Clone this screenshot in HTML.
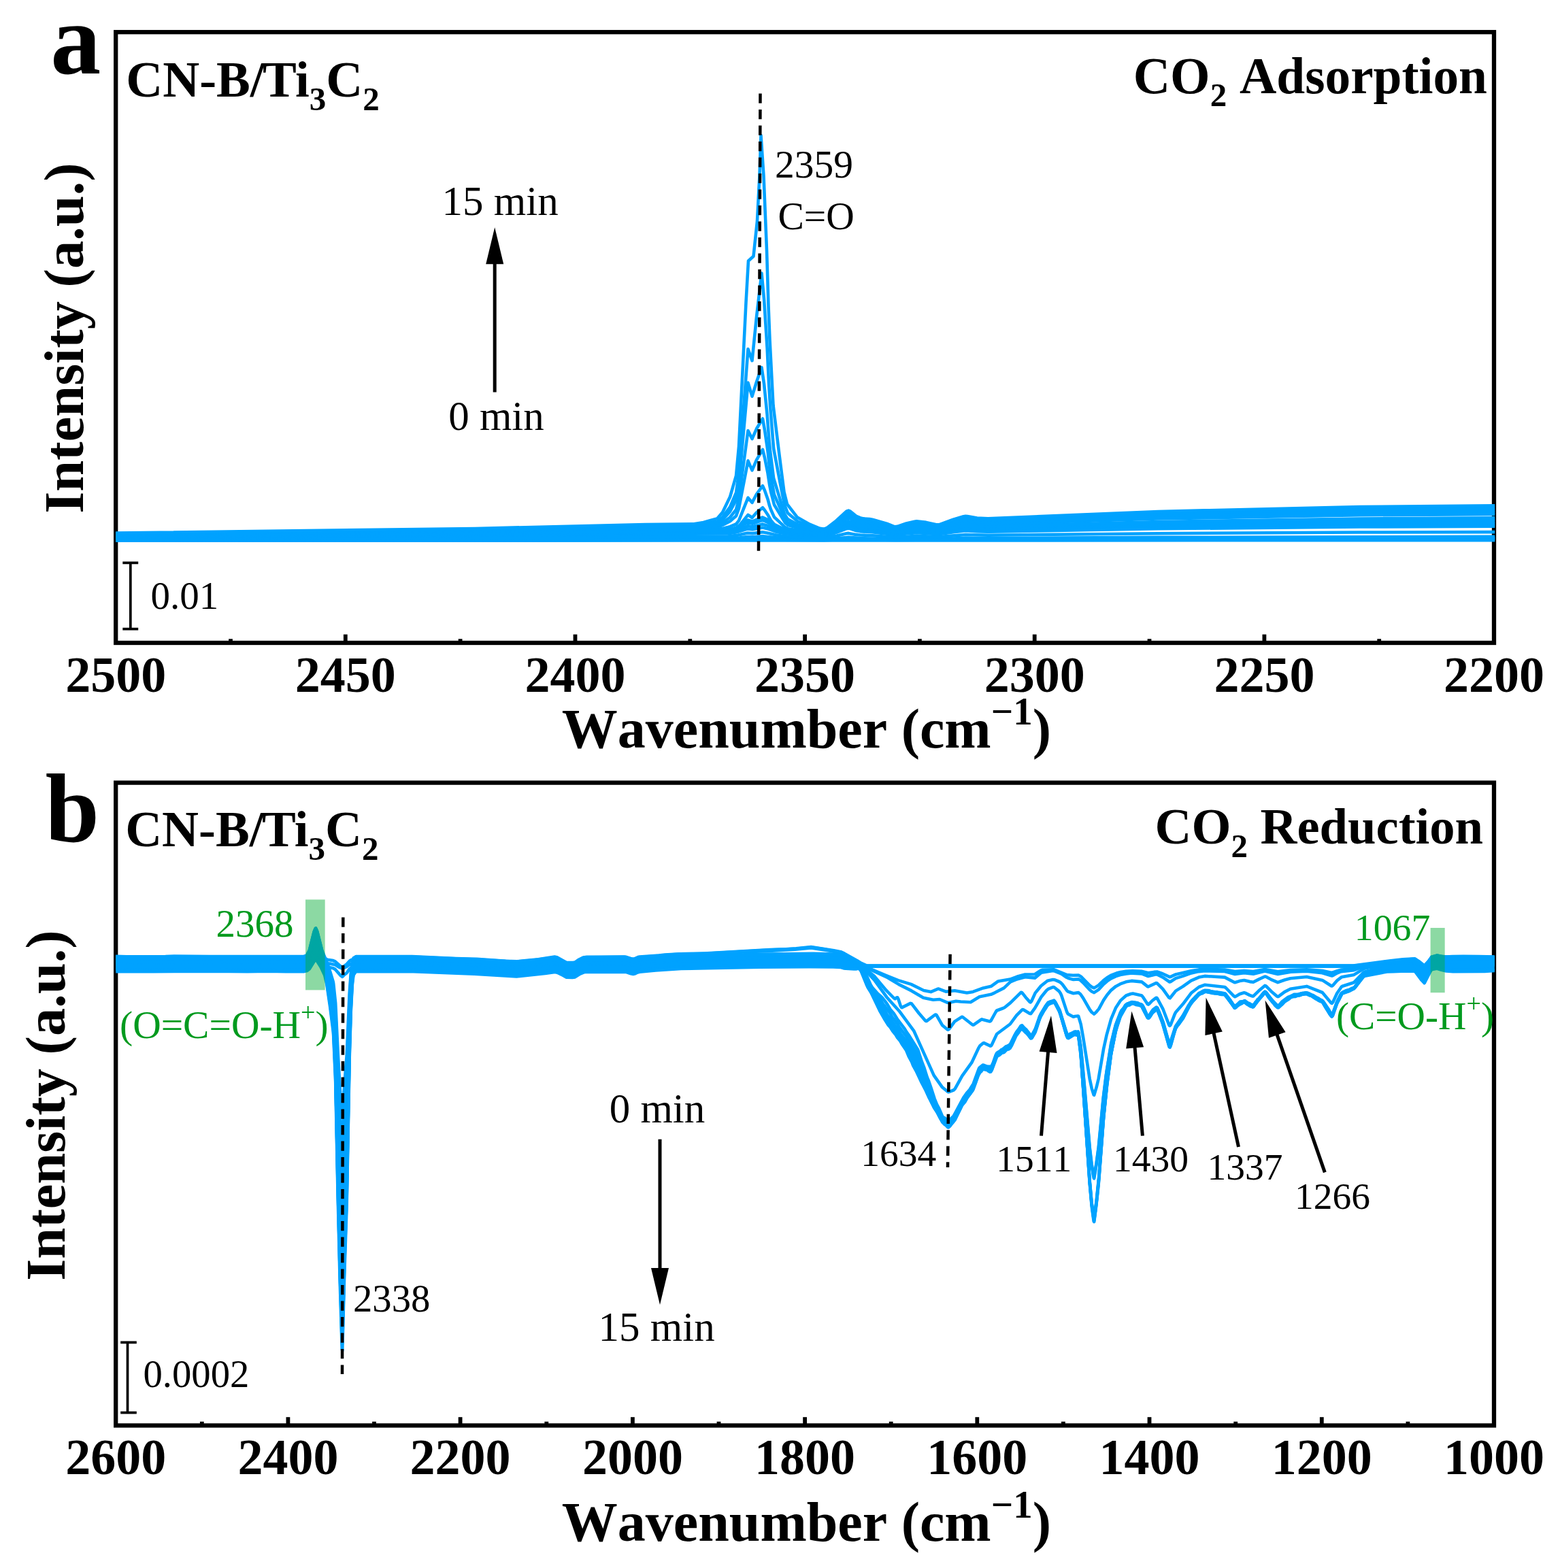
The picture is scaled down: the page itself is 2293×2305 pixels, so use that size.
<!DOCTYPE html>
<html lang="en"><head><meta charset="utf-8"><title>In situ DRIFTS spectra of CN-B/Ti3C2</title>
<style>html,body{margin:0;padding:0;background:#fff}svg{display:block}text{font-family:'Liberation Serif','Times New Roman',serif;font-kerning:none}</style></head>
<body>
<svg width="2293" height="2305" viewBox="0 0 2293 2305" role="img" aria-label="In situ DRIFTS spectra of CN-B/Ti3C2 during CO2 adsorption and reduction">
<rect width="2293" height="2305" fill="#fff"/>
<g id="panel-a">
<rect x="170.2" y="47.2" width="2025.8" height="897.8" fill="none" stroke="#000" stroke-width="6.3"/>
<g stroke="#000" stroke-width="5.8"><line x1="507.8" y1="945.0" x2="507.8" y2="932.6"/><line x1="845.5" y1="945.0" x2="845.5" y2="932.6"/><line x1="1183.1" y1="945.0" x2="1183.1" y2="932.6"/><line x1="1520.7" y1="945.0" x2="1520.7" y2="932.6"/><line x1="1858.4" y1="945.0" x2="1858.4" y2="932.6"/><line x1="339.0" y1="945.0" x2="339.0" y2="939.2"/><line x1="676.6" y1="945.0" x2="676.6" y2="939.2"/><line x1="1014.3" y1="945.0" x2="1014.3" y2="939.2"/><line x1="1351.9" y1="945.0" x2="1351.9" y2="939.2"/><line x1="1689.5" y1="945.0" x2="1689.5" y2="939.2"/><line x1="2027.2" y1="945.0" x2="2027.2" y2="939.2"/></g>
<g fill="none" stroke="#00a2ff" stroke-width="4.6" stroke-linejoin="round" stroke-linecap="butt">
<polyline points="170.2,794.8 2197.2,794.2"/>
<polyline points="170.2,794.4 1070.0,793.7 1121.0,792.9 1152.0,793.7 1211.2,794.1 1247.2,792.8 1316.2,794.0 1347.2,793.6 1380.2,793.8 1419.2,793.2 2197.2,792.4"/>
<polyline points="170.2,794.0 1070.0,792.8 1099.0,791.4 1106.0,791.6 1121.0,791.1 1152.0,792.7 1211.2,793.5 1247.2,791.2 1264.2,792.1 1316.2,793.2 1347.2,792.6 1380.2,793.0 1419.2,791.9 1452.2,792.2 1702.2,791.3 2197.2,790.6"/>
<polyline points="170.2,793.6 1070.0,791.9 1083.0,791.0 1099.0,789.0 1106.0,789.4 1121.0,788.3 1152.0,791.6 1170.0,792.3 1210.2,792.9 1216.2,792.7 1247.2,789.8 1264.2,791.0 1316.2,792.6 1347.2,791.6 1380.2,792.2 1419.2,790.7 1452.2,791.2 1702.2,789.9 2197.2,788.9"/>
<polyline points="170.2,792.1 698.2,790.5 1070.0,788.6 1083.0,786.9 1099.0,783.5 1106.0,784.1 1121.0,782.3 1128.0,783.4 1140.0,786.3 1152.0,788.1 1170.0,789.3 1210.2,790.6 1216.2,790.1 1230.2,787.4 1244.2,784.2 1247.2,783.9 1258.2,785.9 1264.2,786.5 1282.2,787.2 1316.2,789.8 1347.2,787.8 1380.2,789.1 1419.2,786.0 1452.2,786.8 1702.2,784.2 1999.2,782.5 2197.2,782.1"/>
<polyline points="170.2,790.3 698.2,787.6 948.2,785.2 1070.0,784.5 1083.0,782.2 1099.0,777.4 1106.0,778.3 1121.0,775.6 1128.0,777.2 1140.0,781.4 1152.0,784.0 1170.0,785.8 1211.2,787.8 1216.2,787.0 1230.2,782.6 1244.2,777.2 1247.2,776.8 1250.2,777.3 1258.2,780.1 1264.2,781.1 1282.2,782.2 1303.2,784.6 1316.2,786.5 1332.2,784.5 1347.2,783.2 1361.2,783.9 1376.2,785.3 1380.2,785.3 1401.2,782.2 1419.2,780.2 1436.2,781.3 1452.2,781.6 1702.2,777.3 1999.2,774.5 2197.2,773.8"/>
<polyline points="170.2,789.8 699.2,786.8 948.2,784.1 1070.0,783.2 1083.0,779.9 1099.0,773.1 1106.0,774.3 1121.0,770.6 1128.0,772.8 1140.0,778.6 1152.0,782.3 1170.0,784.6 1182.2,785.1 1210.2,787.1 1213.2,786.9 1216.2,786.2 1230.2,781.2 1244.2,775.3 1247.2,774.8 1250.2,775.4 1258.2,778.5 1264.2,779.6 1269.2,780.2 1282.2,780.8 1303.2,783.4 1316.2,785.6 1332.2,783.4 1347.2,781.9 1361.2,782.7 1376.2,784.2 1380.2,784.2 1401.2,780.8 1419.2,778.6 1436.2,779.8 1452.2,780.2 1702.2,775.4 1999.2,772.3 2197.2,771.5"/>
<polyline points="170.2,789.2 699.2,786.0 1070.0,781.9 1083.0,777.3 1092.0,771.7 1099.0,768.1 1106.0,769.7 1121.0,764.6 1128.0,767.6 1140.0,775.3 1152.0,780.3 1170.0,783.4 1182.2,784.0 1210.2,786.3 1213.2,786.1 1216.2,785.3 1230.2,779.8 1244.2,773.3 1247.2,772.8 1250.2,773.5 1258.2,776.8 1264.2,778.1 1269.2,778.7 1282.2,779.3 1303.2,782.3 1316.2,784.7 1332.2,782.2 1347.2,780.7 1361.2,781.5 1376.2,783.2 1380.2,783.2 1401.2,779.3 1419.2,777.0 1436.2,778.3 1452.2,778.7 1702.2,773.5 1999.2,770.0 2197.2,769.2"/>
<polyline points="170.2,788.7 699.2,785.1 948.2,781.8 1020.0,781.4 1049.2,780.6 1070.0,780.5 1083.0,775.2 1092.0,768.8 1099.0,764.5 1106.0,766.4 1121.0,760.5 1128.0,763.9 1140.0,772.9 1152.0,778.6 1170.0,782.2 1182.2,782.9 1210.2,785.4 1213.2,785.2 1216.2,784.3 1230.2,778.3 1244.2,771.2 1247.2,770.6 1250.2,771.3 1258.2,775.0 1264.2,776.4 1269.2,777.1 1282.2,777.8 1303.2,781.0 1313.2,783.3 1316.2,783.6 1332.2,781.0 1347.2,779.2 1361.2,780.1 1376.2,782.0 1380.2,782.0 1401.2,777.8 1419.2,775.1 1436.2,776.6 1452.2,777.1 1702.2,771.3 1999.2,767.5 2197.2,766.6"/>
<polyline points="170.2,788.1 699.2,784.2 947.2,780.6 1020.0,780.2 1054.5,779.6 1073.0,777.9 1082.0,776.2 1086.0,773.6 1099.5,756.9 1105.5,761.0 1112.0,753.6 1121.0,746.3 1124.0,750.0 1128.5,756.7 1133.0,764.9 1138.0,770.8 1154.0,778.9 1158.5,780.0 1210.2,784.5 1213.2,784.3 1216.2,783.3 1230.2,776.8 1244.2,769.0 1247.2,768.4 1250.2,769.1 1258.2,773.2 1264.2,774.7 1269.2,775.5 1282.2,776.2 1303.2,779.7 1313.2,782.2 1316.2,782.6 1319.2,782.3 1332.2,779.7 1347.2,777.8 1361.2,778.8 1376.2,780.8 1380.2,780.8 1401.2,776.2 1419.2,773.3 1436.2,774.9 1452.2,775.4 1702.2,769.2 1999.2,765.0 2197.2,764.0"/>
<polyline points="170.2,787.5 699.2,783.3 948.2,779.4 1020.0,778.9 1054.5,777.8 1062.0,776.9 1073.0,774.2 1082.0,770.5 1086.0,765.3 1099.5,731.7 1105.5,738.9 1112.0,726.5 1121.0,714.2 1124.0,721.0 1128.5,733.7 1131.0,743.1 1133.0,749.0 1138.0,760.1 1154.0,775.1 1158.5,777.2 1173.5,779.7 1210.2,783.7 1213.2,783.4 1216.2,782.4 1230.2,775.3 1244.2,766.8 1247.2,766.1 1250.2,767.0 1258.2,771.4 1264.2,773.0 1269.2,773.8 1282.2,774.6 1303.2,778.5 1313.2,781.2 1316.2,781.5 1319.2,781.3 1332.2,778.4 1347.2,776.4 1361.2,777.4 1376.2,779.6 1380.2,779.6 1401.2,774.6 1419.2,771.5 1436.2,773.2 1452.2,773.8 1702.2,767.0 1999.2,762.5 2197.2,761.4"/>
<polyline points="170.2,786.3 700.2,781.4 948.2,776.9 1020.0,776.4 1054.5,774.2 1062.0,772.0 1073.0,766.3 1082.0,758.4 1086.0,747.4 1099.5,677.3 1105.5,691.4 1112.0,676.1 1121.0,660.8 1124.0,672.9 1128.5,695.3 1131.0,712.0 1133.0,722.4 1138.0,742.0 1154.0,768.4 1158.5,772.1 1173.5,776.3 1210.2,781.8 1213.2,781.5 1216.2,780.3 1230.2,772.1 1244.2,762.3 1247.2,761.5 1250.2,762.5 1258.2,767.5 1264.2,769.5 1269.2,770.4 1282.2,771.4 1303.2,775.8 1313.2,778.9 1316.2,779.4 1319.2,779.0 1332.2,775.7 1347.2,773.3 1361.2,774.6 1376.2,777.1 1380.2,777.1 1401.2,771.4 1416.2,768.1 1419.2,767.7 1436.2,769.7 1452.2,770.4 1702.2,762.5 1999.2,757.3 2197.2,756.0"/>
<polyline points="170.2,785.7 700.2,780.4 948.2,775.6 1020.0,775.0 1034.0,774.0 1054.5,771.9 1062.0,768.7 1073.0,760.5 1082.0,749.1 1086.0,733.4 1099.5,633.0 1105.5,645.1 1112.0,630.3 1121.0,615.5 1124.0,632.2 1128.5,663.0 1131.0,686.0 1133.0,700.2 1138.0,727.2 1154.0,763.3 1158.5,768.4 1173.5,774.1 1206.5,780.4 1211.2,780.9 1215.2,779.8 1230.2,770.4 1244.2,759.9 1247.2,759.0 1250.2,760.1 1258.2,765.5 1264.2,767.6 1269.2,768.6 1278.2,769.1 1282.2,769.6 1303.2,774.4 1313.2,777.8 1316.2,778.2 1319.2,777.9 1332.2,774.3 1347.2,771.8 1361.2,773.1 1376.2,775.8 1380.2,775.8 1401.2,769.6 1416.2,766.1 1419.2,765.8 1436.2,767.9 1452.2,768.6 1702.2,760.1 1999.2,754.5 2197.2,753.1"/>
<polyline points="170.2,785.0 701.2,779.3 948.2,774.2 1020.0,773.5 1034.0,772.1 1054.5,769.0 1062.0,764.2 1073.0,751.9 1082.0,735.0 1086.0,711.6 1099.5,562.6 1105.5,582.7 1112.0,561.4 1119.5,540.1 1123.1,564.4 1127.6,609.4 1130.1,642.9 1132.1,663.6 1137.1,703.0 1153.1,755.6 1157.6,763.0 1172.6,771.1 1190.6,775.9 1205.6,779.2 1211.2,779.8 1215.2,778.7 1230.2,768.6 1244.2,757.3 1247.2,756.4 1250.2,757.5 1258.2,763.4 1264.2,765.6 1269.2,766.7 1278.2,767.1 1282.2,767.8 1303.2,772.9 1313.2,776.5 1316.2,777.0 1319.2,776.6 1332.2,772.8 1347.2,770.0 1361.2,771.5 1376.2,774.4 1380.2,774.4 1401.2,767.8 1416.2,764.0 1419.2,763.6 1436.2,765.9 1452.2,766.6 1702.2,757.5 1999.2,751.5 2197.2,750.0"/>
<polyline points="170.2,784.2 698.2,778.2 948.2,772.6 1020.0,771.9 1034.0,770.2 1054.5,766.4 1062.0,760.4 1073.0,745.4 1082.0,724.5 1086.0,695.9 1099.5,513.0 1105.5,530.2 1112.0,465.9 1119.5,401.6 1123.1,440.0 1127.6,511.2 1130.1,564.1 1132.1,596.9 1137.1,659.2 1146.1,706.7 1153.1,742.2 1157.6,753.9 1172.6,766.6 1190.6,773.6 1205.6,778.0 1210.2,778.7 1213.2,778.3 1216.2,776.8 1229.2,767.4 1244.2,754.5 1247.2,753.5 1250.2,754.7 1258.2,761.0 1264.2,763.4 1269.2,764.6 1278.2,765.1 1282.2,765.7 1303.2,771.2 1313.2,775.1 1316.2,775.6 1319.2,775.2 1332.2,771.2 1344.2,768.5 1347.2,768.2 1361.2,769.7 1376.2,772.9 1380.2,772.9 1401.2,765.7 1416.2,761.6 1419.2,761.3 1436.2,763.7 1452.2,764.5 1702.2,754.7 1999.2,748.3 2197.2,746.7"/>
<polyline points="170.2,783.5 698.2,777.0 948.2,771.0 1020.0,770.3 1034.0,767.9 1054.5,762.1 1062.0,753.2 1073.0,730.6 1082.0,699.4 1086.0,656.5 1096.5,444.8 1100.0,383.5 1107.5,376.8 1113.0,325.0 1116.5,258.1 1118.5,199.1 1122.5,258.2 1127.0,367.8 1129.5,449.3 1131.5,499.8 1136.5,595.6 1145.5,668.7 1152.5,723.3 1157.0,741.2 1172.0,760.6 1190.0,770.7 1205.0,776.8 1210.2,777.5 1213.2,777.1 1216.2,775.6 1229.2,765.5 1244.2,751.7 1247.2,750.6 1250.2,751.9 1258.2,758.6 1264.2,761.2 1269.2,762.4 1278.2,763.0 1282.2,763.7 1303.2,769.6 1313.2,773.7 1316.2,774.3 1319.2,773.9 1332.2,769.5 1344.2,766.7 1347.2,766.3 1361.2,767.9 1376.2,771.3 1380.2,771.3 1401.2,763.7 1416.2,759.3 1419.2,758.9 1422.2,759.1 1436.2,761.5 1452.2,762.4 1702.2,752.0 1999.2,745.0 2197.2,743.3"/>
</g>
<line x1="1117.5" y1="137.5" x2="1115.0" y2="810" stroke="#000" stroke-width="4.5" stroke-dasharray="14.3 9.2"/>
<text x="74.3" y="108.2" font-size="148.0" font-weight="bold">a</text>
<text x="185.3" y="142.4" font-size="74.7" font-weight="bold">CN-B/<tspan dx="-2.5">T</tspan><tspan dx="-2">i</tspan><tspan dy="19.7" font-size="49">3</tspan><tspan dy="-19.7">C</tspan><tspan dy="19.7" font-size="49">2</tspan></text>
<text x="2186" y="136.7" font-size="75.3" font-weight="bold" text-anchor="end">CO<tspan dy="19.7" font-size="49">2</tspan><tspan dy="-19.7"> Adsorption</tspan></text>
<text x="735.2" y="315.6" font-size="61.0" text-anchor="middle">15 min</text>
<text x="729.5" y="632.3" font-size="61.0" text-anchor="middle">0 min</text>
<line x1="727.2" y1="576.5" x2="727.2" y2="386.3" stroke="#000" stroke-width="5.0"/><polygon points="727.2,334.3 740.2,388.3 714.2,388.3" fill="#000"/>
<text x="1139.0" y="261.0" font-size="57.5">2359</text>
<text x="1143.5" y="336.8" font-size="57.5">C=O</text>
<path d="M191.8 826V926M180.3 827.4H203.2M180.3 924.6H203.2" stroke="#000" stroke-width="3.7" fill="none"/>
<text x="221.5" y="895.4" font-size="57.0">0.01</text>
<text x="170.2" y="1017.0" font-size="74.0" font-weight="bold" text-anchor="middle">2500</text>
<text x="507.8" y="1017.0" font-size="74.0" font-weight="bold" text-anchor="middle">2450</text>
<text x="845.5" y="1017.0" font-size="74.0" font-weight="bold" text-anchor="middle">2400</text>
<text x="1183.1" y="1017.0" font-size="74.0" font-weight="bold" text-anchor="middle">2350</text>
<text x="1520.7" y="1017.0" font-size="74.0" font-weight="bold" text-anchor="middle">2300</text>
<text x="1858.4" y="1017.0" font-size="74.0" font-weight="bold" text-anchor="middle">2250</text>
<text x="2196.0" y="1017.0" font-size="74.0" font-weight="bold" text-anchor="middle">2200</text>
<text x="1185.4" y="1098.6" font-size="82" font-weight="bold" text-anchor="middle">Wavenumber (cm<tspan dy="-34" font-size="57">−1</tspan><tspan dy="34">)</tspan></text>
<text transform="translate(121.7,497) rotate(-90)" font-size="82.5" font-weight="bold" text-anchor="middle">Intensity (a.u.)</text>
</g>
<g id="panel-b">
<rect x="170.2" y="1150.6" width="2025.8" height="944.9" fill="none" stroke="#000" stroke-width="6.3"/>
<g stroke="#000" stroke-width="5.8"><line x1="423.4" y1="2095.5" x2="423.4" y2="2083.2"/><line x1="676.6" y1="2095.5" x2="676.6" y2="2083.2"/><line x1="929.9" y1="2095.5" x2="929.9" y2="2083.2"/><line x1="1183.1" y1="2095.5" x2="1183.1" y2="2083.2"/><line x1="1436.3" y1="2095.5" x2="1436.3" y2="2083.2"/><line x1="1689.5" y1="2095.5" x2="1689.5" y2="2083.2"/><line x1="1942.8" y1="2095.5" x2="1942.8" y2="2083.2"/><line x1="296.8" y1="2095.5" x2="296.8" y2="2089.8"/><line x1="550.0" y1="2095.5" x2="550.0" y2="2089.8"/><line x1="803.3" y1="2095.5" x2="803.3" y2="2089.8"/><line x1="1056.5" y1="2095.5" x2="1056.5" y2="2089.8"/><line x1="1309.7" y1="2095.5" x2="1309.7" y2="2089.8"/><line x1="1562.9" y1="2095.5" x2="1562.9" y2="2089.8"/><line x1="1816.2" y1="2095.5" x2="1816.2" y2="2089.8"/><line x1="2069.4" y1="2095.5" x2="2069.4" y2="2089.8"/></g>
<g fill="none" stroke="#00a2ff" stroke-width="4.6" stroke-linejoin="round" stroke-linecap="butt">
<polyline points="170.2,1415.8 202.2,1416.0 245.7,1415.7 258.2,1416.0 288.2,1415.7 326.7,1416.1 393.7,1415.7 447.2,1415.8 451.2,1415.1 454.7,1413.0 461.7,1403.7 464.2,1402.0 466.2,1403.6 473.2,1412.7 476.7,1415.1 481.2,1416.4 486.7,1416.9 492.7,1418.2 498.7,1422.0 503.2,1423.9 509.7,1421.0 513.7,1417.9 515.7,1416.9 519.7,1416.1 577.2,1415.7 600.7,1416.0 612.2,1416.8 660.7,1418.6 688.7,1419.3 756.7,1423.3 762.7,1423.1 779.2,1421.5 799.2,1419.3 816.2,1416.9 819.2,1417.8 832.2,1424.7 842.7,1424.9 846.2,1424.0 853.2,1419.4 857.7,1417.4 860.2,1417.0 902.7,1416.5 918.7,1416.7 920.7,1417.0 928.2,1419.7 930.7,1420.0 933.2,1419.5 937.2,1417.7 939.7,1417.0 1002.7,1411.7 1038.2,1411.3 1076.7,1410.3 1107.2,1410.2 1179.2,1409.0 1194.7,1409.0 1234.7,1410.1 1239.2,1411.1 1250.2,1415.0 1258.2,1417.2 1267.7,1419.1 1274.2,1419.9 1989.7,1420.0 2051.2,1416.6 2079.7,1416.4 2083.2,1418.7 2093.7,1427.3 2100.2,1420.5 2104.2,1415.2 2112.2,1413.3 2119.2,1415.0 2126.2,1416.0 2177.7,1415.9 2196.7,1416.5"/>
<polyline points="170.2,1406.4 243.2,1406.0 256.2,1405.6 308.2,1406.0 446.7,1405.8 450.7,1404.3 451.2,1403.7 454.7,1397.2 461.7,1369.4 463.7,1364.6 464.2,1364.4 466.2,1368.9 473.2,1396.5 477.2,1406.8 480.2,1413.4 485.2,1428.2 489.7,1443.2 490.2,1446.0 493.2,1474.8 496.7,1547.7 499.7,1599.8 502.7,1641.6 503.2,1642.5 506.2,1595.1 509.7,1551.0 513.7,1459.6 515.7,1431.4 517.7,1414.7 519.2,1409.4 519.7,1408.2 523.2,1406.1 605.7,1406.1 670.2,1409.1 700.7,1409.9 743.2,1412.8 759.7,1413.4 791.2,1410.2 815.2,1406.5 818.7,1407.2 832.2,1414.7 842.2,1415.1 845.2,1414.6 851.2,1410.5 857.2,1407.6 862.7,1406.7 917.7,1406.6 921.2,1407.1 928.2,1409.4 931.2,1409.7 933.7,1409.0 937.7,1407.1 940.2,1406.6 968.7,1404.6 977.2,1403.6 999.7,1402.2 1018.7,1402.0 1039.7,1401.2 1132.2,1396.0 1155.2,1395.3 1170.2,1394.3 1192.2,1392.0 1225.7,1397.2 1235.7,1399.2 1240.7,1401.4 1261.7,1413.3 1274.2,1422.0 1302.7,1434.1 1320.2,1441.1 1339.2,1446.9 1357.7,1456.0 1368.2,1458.1 1378.2,1453.8 1379.7,1453.6 1390.2,1457.7 1403.2,1456.2 1421.2,1459.5 1430.2,1457.9 1445.2,1452.4 1457.2,1449.7 1467.2,1442.4 1484.7,1439.6 1494.7,1435.8 1506.7,1432.5 1521.2,1432.2 1529.7,1426.6 1531.7,1425.9 1548.7,1425.2 1568.2,1433.1 1577.2,1433.8 1585.2,1433.5 1588.7,1435.4 1601.7,1448.5 1604.7,1450.8 1608.2,1452.4 1614.7,1448.4 1622.2,1441.1 1627.2,1437.3 1632.7,1434.0 1641.2,1430.6 1647.2,1429.1 1655.2,1427.8 1664.7,1427.3 1677.7,1427.8 1687.7,1430.3 1696.2,1428.9 1700.7,1428.5 1709.2,1431.5 1719.2,1436.2 1720.7,1435.9 1728.2,1432.4 1750.7,1427.2 1762.2,1425.4 1771.2,1424.8 1800.2,1425.5 1815.2,1428.1 1828.7,1427.0 1842.2,1428.0 1859.2,1425.1 1878.2,1428.2 1896.7,1426.0 1920.7,1425.3 1943.7,1427.0 1957.7,1430.0 1965.7,1427.1 1971.7,1425.5 1990.2,1424.2 2005.7,1419.2 2037.2,1413.8 2060.2,1411.2 2076.7,1409.9 2080.2,1409.9 2093.7,1420.7 2099.7,1413.4 2104.2,1407.0 2112.2,1404.5 2119.2,1405.9 2125.7,1406.6 2134.7,1406.1 2150.7,1405.9 2173.7,1406.0 2196.7,1406.6"/>
<polyline points="170.2,1408.2 189.2,1407.5 238.7,1407.7 267.2,1407.2 301.7,1407.7 325.7,1407.3 446.7,1407.4 451.2,1405.3 454.7,1398.7 461.7,1371.2 463.7,1366.4 464.2,1366.2 466.2,1370.7 473.2,1398.1 480.2,1416.1 485.2,1433.6 489.7,1451.2 490.2,1454.4 493.2,1488.1 496.7,1573.1 499.7,1633.8 502.7,1682.6 503.2,1683.6 506.2,1628.5 509.7,1576.9 513.7,1470.1 515.7,1437.1 517.7,1417.8 519.2,1411.5 519.7,1410.1 523.2,1407.3 598.7,1407.4 692.2,1411.1 722.2,1413.1 760.2,1415.1 815.7,1408.4 818.2,1408.9 821.2,1410.2 832.2,1416.2 842.2,1416.5 845.2,1416.0 853.2,1411.0 857.7,1409.1 860.2,1408.6 919.2,1408.2 921.2,1408.5 927.7,1410.9 930.7,1411.4 933.2,1411.0 937.2,1409.2 940.2,1408.6 993.2,1404.1 1002.7,1403.5 1036.7,1402.9 1048.7,1402.4 1097.2,1399.1 1126.2,1398.2 1168.7,1395.8 1192.2,1393.5 1223.2,1398.3 1235.2,1400.7 1239.7,1402.6 1249.7,1408.2 1262.7,1414.6 1266.7,1417.1 1274.2,1422.8 1303.2,1436.3 1321.2,1447.1 1339.7,1456.4 1357.2,1466.8 1371.7,1469.7 1381.2,1469.0 1392.7,1473.8 1394.2,1474.1 1405.2,1471.7 1412.2,1472.5 1426.7,1473.2 1439.7,1465.3 1456.7,1461.8 1462.2,1459.3 1475.7,1452.4 1485.2,1443.4 1493.7,1439.9 1506.7,1436.2 1521.2,1437.6 1530.7,1429.8 1547.7,1427.1 1549.7,1427.4 1560.2,1431.6 1567.7,1436.8 1570.2,1438.0 1577.7,1439.9 1585.2,1439.4 1588.2,1441.0 1592.2,1444.7 1601.7,1455.0 1604.7,1457.5 1608.2,1459.2 1614.7,1454.9 1622.2,1446.8 1627.2,1442.4 1633.2,1438.3 1640.2,1435.1 1646.7,1433.1 1655.2,1431.4 1661.7,1430.8 1664.7,1430.6 1678.2,1431.4 1687.7,1435.0 1699.2,1432.3 1700.7,1432.4 1709.2,1436.7 1719.2,1443.5 1720.7,1443.0 1728.2,1438.1 1738.7,1434.9 1751.2,1430.4 1761.7,1428.1 1771.2,1427.2 1800.2,1428.0 1815.2,1431.9 1828.7,1430.3 1842.2,1431.7 1859.2,1427.5 1878.2,1431.9 1897.2,1428.8 1920.7,1427.7 1943.7,1430.2 1957.7,1434.5 1959.2,1434.0 1965.2,1430.5 1971.2,1428.1 1990.2,1426.2 2005.7,1420.3 2039.2,1414.7 2060.2,1412.3 2076.7,1411.3 2080.2,1411.4 2093.7,1422.8 2099.7,1415.2 2104.2,1408.5 2112.2,1405.7 2119.2,1407.2 2125.7,1407.9 2133.7,1407.6 2180.2,1407.6 2196.7,1406.8"/>
<polyline points="170.2,1408.6 192.7,1409.2 221.7,1408.9 355.7,1409.0 367.7,1409.3 373.7,1409.0 446.7,1409.1 451.2,1407.3 454.7,1401.5 461.7,1376.9 463.7,1372.7 464.2,1372.6 466.2,1376.6 473.2,1401.3 480.2,1419.3 485.2,1439.0 489.7,1459.1 490.2,1462.8 493.2,1501.1 496.7,1598.4 499.7,1667.8 502.7,1723.6 503.2,1724.8 506.2,1661.7 509.7,1602.7 513.7,1480.8 515.7,1443.1 517.7,1420.9 519.2,1413.7 519.7,1412.0 523.2,1409.0 600.2,1408.9 633.2,1410.4 694.7,1412.6 758.7,1416.5 779.2,1414.4 816.2,1409.8 818.7,1410.3 821.2,1411.6 831.2,1417.4 833.2,1418.0 838.2,1418.1 843.7,1418.0 845.2,1417.6 853.2,1412.6 857.7,1410.6 860.7,1409.9 918.2,1409.5 921.2,1410.0 927.2,1412.2 930.7,1412.8 932.7,1412.5 937.7,1410.4 939.7,1410.0 1001.7,1404.8 1035.7,1404.5 1066.2,1403.5 1092.7,1403.4 1108.7,1402.8 1196.2,1401.9 1235.2,1402.9 1240.2,1404.3 1251.7,1410.3 1261.7,1414.8 1266.7,1417.8 1274.2,1426.2 1284.7,1434.5 1302.7,1455.9 1314.2,1467.5 1315.7,1468.3 1318.2,1466.3 1319.2,1466.4 1320.2,1468.1 1323.7,1478.6 1325.2,1481.0 1325.7,1481.1 1338.2,1474.9 1339.7,1475.2 1350.7,1489.5 1360.2,1500.5 1361.2,1501.1 1362.2,1500.9 1374.7,1491.5 1375.7,1491.5 1376.7,1492.5 1385.2,1507.3 1392.7,1513.5 1393.7,1513.8 1395.2,1512.6 1403.2,1501.7 1413.7,1494.8 1415.2,1495.3 1429.2,1506.2 1430.2,1506.7 1431.7,1506.2 1441.7,1499.1 1443.2,1498.4 1454.7,1501.4 1455.7,1501.2 1456.7,1500.1 1463.7,1487.5 1465.2,1485.5 1474.7,1482.0 1476.7,1481.0 1485.2,1474.1 1500.7,1458.8 1502.2,1459.2 1507.7,1466.2 1513.7,1472.9 1514.7,1473.4 1516.2,1471.7 1521.7,1459.6 1530.2,1449.3 1539.7,1441.7 1547.7,1440.0 1549.7,1440.2 1556.7,1443.0 1558.7,1444.2 1561.7,1447.2 1568.2,1456.2 1569.7,1457.5 1577.7,1460.2 1585.2,1459.1 1588.2,1461.5 1592.2,1467.4 1601.7,1484.0 1604.7,1488.0 1608.2,1490.7 1611.7,1487.3 1615.2,1483.1 1622.2,1470.1 1627.2,1462.7 1633.2,1455.6 1640.2,1449.9 1646.7,1446.4 1655.2,1443.3 1663.2,1441.9 1678.2,1443.4 1686.7,1450.1 1687.7,1450.5 1699.2,1445.1 1700.7,1445.3 1709.2,1453.8 1718.2,1466.5 1719.7,1467.3 1728.2,1456.6 1738.7,1450.1 1750.7,1441.6 1762.2,1436.6 1770.7,1434.9 1800.2,1436.6 1814.2,1444.0 1815.2,1444.2 1822.2,1442.1 1828.7,1441.0 1837.2,1443.1 1842.2,1443.8 1850.2,1439.6 1859.2,1435.5 1860.7,1435.8 1868.2,1439.8 1878.2,1444.2 1888.2,1440.5 1896.7,1438.2 1920.7,1436.0 1943.7,1440.9 1956.7,1449.2 1957.7,1449.5 1959.2,1448.6 1965.7,1441.1 1972.2,1436.2 1990.2,1432.9 2005.2,1423.7 2038.2,1416.7 2059.7,1414.6 2079.7,1413.5 2093.7,1426.1 2099.7,1417.3 2104.2,1409.8 2106.2,1408.8 2112.2,1407.0 2126.2,1409.1 2137.7,1408.9 2167.2,1409.2 2196.7,1408.7"/>
<polyline points="170.2,1409.9 197.7,1410.6 244.7,1410.8 321.2,1410.3 446.7,1410.5 450.7,1409.3 454.7,1403.5 461.7,1380.4 463.7,1376.5 464.2,1376.4 466.2,1380.1 473.2,1403.1 477.2,1413.0 480.2,1421.9 485.2,1444.0 489.7,1466.8 490.2,1471.0 493.2,1514.2 496.7,1623.6 499.7,1701.8 502.7,1764.7 503.2,1766.0 506.2,1695.0 509.7,1628.7 513.7,1491.4 515.7,1449.0 517.7,1424.0 519.2,1415.9 519.7,1414.1 523.2,1410.7 601.2,1410.3 707.2,1414.8 740.7,1417.3 758.7,1418.0 796.7,1413.9 816.2,1411.2 819.7,1412.3 826.7,1415.9 830.2,1418.3 832.7,1419.4 842.7,1419.5 846.2,1418.5 853.7,1413.7 857.7,1411.9 861.2,1411.2 918.2,1411.2 921.7,1411.8 927.2,1413.8 930.7,1414.4 933.7,1413.7 937.7,1411.9 942.2,1411.0 1004.2,1406.2 1021.7,1406.1 1050.7,1405.3 1161.2,1403.6 1203.2,1403.6 1235.2,1404.5 1240.2,1405.9 1247.7,1409.6 1261.7,1415.5 1266.2,1417.8 1274.2,1428.6 1285.2,1440.7 1303.2,1465.7 1321.7,1486.2 1343.2,1515.3 1372.7,1580.9 1384.7,1597.9 1392.7,1604.6 1394.2,1605.3 1401.7,1602.5 1403.7,1600.6 1414.2,1581.7 1428.2,1562.2 1438.2,1540.9 1440.2,1537.6 1444.7,1533.7 1446.2,1533.1 1455.7,1537.6 1456.7,1537.4 1457.7,1536.0 1465.2,1520.0 1484.7,1505.5 1494.2,1492.7 1502.2,1484.6 1503.2,1484.1 1504.2,1484.2 1513.7,1490.0 1515.2,1490.1 1521.2,1481.9 1530.7,1465.2 1538.2,1456.0 1540.7,1453.9 1547.7,1451.1 1548.7,1451.1 1549.7,1451.5 1556.7,1457.1 1558.7,1460.0 1560.2,1463.3 1568.2,1487.6 1569.7,1490.4 1577.7,1494.8 1580.2,1494.0 1584.7,1493.5 1585.2,1494.0 1588.7,1505.6 1592.2,1525.5 1601.7,1585.9 1604.7,1600.1 1607.7,1609.6 1608.2,1609.9 1611.7,1598.2 1614.7,1585.7 1622.2,1541.5 1626.7,1521.1 1633.2,1497.8 1640.2,1481.2 1647.2,1470.6 1655.2,1463.5 1662.2,1461.0 1665.2,1460.6 1678.2,1463.6 1679.7,1465.2 1686.7,1476.0 1687.7,1476.6 1688.7,1476.2 1693.7,1471.0 1699.2,1466.8 1700.2,1466.8 1700.7,1467.1 1709.2,1482.8 1718.2,1506.4 1719.2,1507.9 1719.7,1507.9 1720.7,1506.3 1726.7,1490.9 1728.2,1488.0 1738.7,1476.1 1750.7,1460.2 1752.2,1458.7 1762.2,1451.0 1771.2,1447.7 1800.2,1451.0 1801.7,1452.0 1813.7,1464.3 1815.2,1465.2 1816.2,1464.9 1822.2,1461.2 1828.7,1459.2 1830.2,1459.6 1837.2,1463.1 1841.2,1464.5 1842.2,1464.4 1850.2,1456.6 1859.2,1448.9 1860.7,1449.4 1868.7,1457.4 1877.2,1464.7 1878.2,1465.1 1879.2,1464.9 1888.2,1458.1 1896.7,1453.8 1920.7,1449.9 1943.7,1459.0 1956.7,1474.4 1957.7,1475.0 1959.2,1473.3 1965.2,1460.3 1971.7,1450.7 1973.2,1449.7 1990.2,1444.2 2004.2,1429.5 2006.7,1428.3 2038.2,1420.3 2058.7,1418.0 2079.2,1416.8 2080.7,1417.5 2087.7,1425.4 2093.7,1431.3 2099.2,1421.8 2104.2,1412.1 2106.2,1410.8 2112.2,1409.0 2118.7,1410.3 2126.2,1411.0 2131.2,1410.6 2168.2,1410.1 2179.7,1410.5 2196.7,1410.4"/>
<polyline points="170.2,1412.4 244.7,1411.7 275.7,1412.3 329.2,1411.8 359.2,1412.4 379.7,1412.0 407.7,1412.2 447.2,1411.9 451.2,1410.4 454.7,1405.4 461.7,1384.2 463.7,1380.6 464.2,1380.4 466.2,1383.9 473.2,1405.3 477.2,1415.1 479.7,1422.8 485.2,1449.2 489.7,1474.4 490.2,1479.0 493.2,1527.0 496.7,1648.6 499.7,1735.4 502.7,1805.2 503.2,1806.7 506.2,1727.8 509.7,1654.1 513.7,1501.6 515.7,1454.4 517.7,1426.7 519.2,1417.7 519.7,1415.7 523.2,1411.9 574.7,1412.3 602.2,1412.0 639.2,1413.8 696.7,1415.8 733.7,1417.6 759.2,1419.3 794.2,1415.6 816.2,1412.7 818.7,1413.4 824.7,1416.4 831.2,1420.3 834.2,1421.1 844.7,1420.7 853.2,1415.4 858.2,1413.4 860.7,1413.0 918.2,1412.4 920.7,1412.7 927.2,1415.1 930.7,1415.7 932.7,1415.4 937.7,1413.3 940.2,1412.7 1001.2,1407.9 1076.2,1406.7 1102.7,1406.0 1200.2,1404.9 1227.7,1405.6 1235.2,1406.0 1238.7,1406.9 1249.7,1411.8 1257.7,1416.5 1259.2,1417.9 1263.7,1423.7 1265.7,1427.7 1274.2,1448.6 1275.7,1451.7 1280.2,1458.8 1293.7,1486.9 1300.7,1499.1 1305.7,1506.9 1308.7,1510.2 1312.2,1515.9 1316.7,1521.4 1319.2,1525.6 1323.2,1530.3 1326.2,1535.5 1332.2,1544.3 1335.7,1552.9 1340.2,1561.1 1342.2,1566.5 1347.2,1575.5 1354.7,1591.5 1360.2,1601.8 1365.2,1612.9 1367.7,1617.5 1371.7,1624.2 1376.7,1630.3 1379.7,1636.0 1381.7,1638.9 1385.7,1642.4 1389.2,1643.9 1392.7,1647.6 1393.7,1647.8 1395.7,1645.7 1398.2,1644.1 1401.7,1640.5 1416.2,1613.7 1421.7,1605.9 1425.2,1601.9 1430.7,1593.1 1438.7,1571.2 1439.7,1569.5 1444.7,1565.5 1446.7,1565.9 1448.7,1567.0 1451.2,1567.8 1454.7,1567.8 1455.7,1568.5 1456.7,1568.6 1459.7,1562.5 1463.7,1551.1 1465.2,1548.1 1468.2,1546.6 1470.2,1545.0 1471.7,1543.2 1472.7,1543.0 1474.7,1541.7 1478.7,1538.3 1480.2,1538.1 1481.2,1537.2 1483.2,1536.6 1485.2,1534.4 1491.2,1522.2 1494.2,1517.0 1497.7,1512.5 1500.2,1508.4 1501.2,1507.7 1502.2,1507.3 1503.7,1509.2 1506.7,1512.2 1507.7,1512.7 1515.2,1522.1 1516.7,1521.8 1521.7,1512.7 1528.2,1494.2 1529.7,1491.0 1536.7,1479.2 1540.7,1473.7 1544.2,1472.3 1545.7,1472.1 1549.2,1470.6 1551.7,1474.3 1554.2,1479.5 1557.7,1485.5 1566.2,1513.9 1568.7,1521.0 1569.7,1521.9 1570.2,1521.8 1571.7,1521.0 1573.2,1519.5 1574.2,1519.4 1576.2,1518.3 1577.2,1518.5 1578.2,1518.2 1581.2,1516.6 1583.2,1516.9 1584.7,1516.3 1585.2,1517.6 1588.7,1539.5 1594.2,1598.1 1601.7,1686.6 1604.7,1711.8 1607.7,1729.4 1608.2,1729.6 1611.7,1708.8 1614.7,1686.5 1621.7,1613.9 1625.7,1581.0 1633.2,1533.6 1639.7,1507.4 1646.7,1488.7 1648.2,1485.8 1652.7,1480.5 1654.2,1477.7 1657.2,1475.3 1658.7,1475.2 1660.2,1474.1 1664.2,1473.0 1666.7,1474.3 1668.2,1474.6 1670.7,1474.1 1672.7,1474.5 1673.2,1475.2 1678.7,1477.1 1681.7,1482.3 1686.2,1492.9 1687.7,1494.3 1688.7,1493.8 1692.2,1487.8 1694.7,1484.4 1699.7,1480.5 1700.7,1481.1 1701.2,1481.5 1704.2,1488.6 1709.7,1502.5 1717.2,1529.4 1718.7,1533.2 1719.2,1533.8 1719.7,1533.8 1728.2,1508.3 1739.2,1492.4 1747.2,1477.7 1750.2,1473.3 1753.7,1469.0 1757.7,1465.3 1762.2,1460.0 1766.7,1457.8 1767.7,1456.9 1770.7,1455.9 1775.7,1456.0 1778.2,1456.5 1780.2,1457.5 1781.7,1457.5 1786.2,1458.3 1788.2,1458.2 1790.2,1458.9 1793.2,1459.1 1793.7,1459.5 1794.7,1459.3 1796.2,1460.0 1799.7,1460.3 1800.7,1460.8 1808.2,1470.0 1812.7,1477.2 1814.2,1479.0 1815.2,1479.4 1817.7,1477.8 1822.7,1472.5 1827.2,1472.0 1829.2,1471.0 1830.2,1471.3 1834.2,1474.3 1835.7,1475.0 1836.7,1475.1 1837.2,1475.8 1840.2,1477.1 1841.2,1478.1 1844.2,1475.5 1845.7,1472.9 1846.7,1472.1 1848.7,1469.1 1849.7,1468.6 1857.2,1459.5 1859.2,1457.7 1860.7,1458.3 1869.2,1469.6 1876.7,1477.4 1878.7,1478.3 1880.7,1476.9 1884.2,1472.6 1893.7,1465.6 1898.2,1464.2 1902.2,1461.8 1908.2,1461.8 1915.2,1459.7 1916.2,1460.0 1921.2,1459.5 1923.7,1460.3 1928.7,1462.8 1930.2,1463.1 1934.7,1466.2 1937.7,1467.4 1940.2,1469.3 1942.7,1470.4 1944.7,1471.8 1953.2,1484.3 1956.7,1490.9 1957.7,1491.6 1958.7,1490.5 1964.7,1474.0 1970.7,1461.6 1971.7,1460.2 1973.2,1458.9 1978.2,1456.3 1983.7,1454.7 1987.2,1452.7 1989.2,1452.4 1990.7,1451.3 1991.7,1450.3 2004.2,1433.2 2005.2,1432.2 2007.2,1431.3 2011.7,1430.4 2025.7,1425.9 2039.2,1422.3 2060.7,1420.1 2078.7,1419.1 2080.2,1419.5 2086.7,1427.8 2093.7,1435.4 2104.2,1414.4 2106.2,1412.8 2112.2,1410.8 2119.2,1411.9 2126.2,1412.5 2133.7,1411.8 2172.2,1412.0 2196.7,1411.7"/>
<polyline points="170.2,1414.1 187.7,1413.4 221.2,1413.1 259.2,1413.7 343.7,1413.4 418.7,1413.7 447.2,1413.3 451.2,1411.9 454.7,1407.4 461.7,1388.5 463.7,1385.2 464.2,1385.1 466.2,1388.3 473.2,1407.6 477.2,1416.9 479.7,1425.0 485.2,1453.3 489.7,1480.5 490.2,1485.5 493.2,1537.0 496.7,1667.7 499.7,1761.0 502.7,1836.1 503.2,1837.6 506.2,1752.9 509.7,1673.8 513.7,1509.9 515.7,1459.4 517.7,1429.6 519.2,1419.8 519.7,1417.6 523.2,1413.7 599.7,1413.5 645.2,1415.5 670.7,1416.1 685.7,1417.2 702.7,1417.7 759.7,1420.9 797.2,1417.1 815.7,1414.2 820.2,1415.6 832.2,1422.1 836.7,1422.5 844.7,1422.2 854.2,1416.4 857.7,1415.0 861.2,1414.4 918.7,1414.1 921.2,1414.6 927.7,1416.9 931.7,1417.4 939.7,1414.5 999.2,1409.8 1017.7,1409.0 1091.7,1407.3 1132.2,1407.4 1184.7,1406.4 1207.2,1407.0 1228.7,1407.1 1235.2,1407.4 1238.7,1408.2 1256.7,1415.3 1264.2,1419.4 1265.7,1420.8 1270.7,1427.5 1280.2,1448.6 1282.2,1451.7 1290.2,1460.8 1296.2,1465.9 1301.2,1472.1 1304.2,1476.4 1308.7,1483.9 1313.7,1489.8 1318.7,1497.8 1329.7,1512.4 1332.7,1517.4 1335.7,1521.5 1349.2,1543.3 1354.7,1560.1 1358.2,1569.0 1362.7,1583.5 1365.2,1589.5 1368.7,1599.8 1373.7,1615.3 1377.2,1623.9 1380.2,1629.3 1384.7,1640.0 1386.7,1643.0 1387.2,1642.9 1389.2,1644.9 1390.7,1647.3 1393.7,1650.1 1396.7,1647.9 1399.7,1644.7 1407.2,1632.7 1413.7,1619.2 1417.2,1614.0 1421.7,1608.4 1423.2,1605.8 1424.7,1604.3 1429.7,1597.3 1432.2,1591.5 1437.7,1576.0 1440.2,1571.9 1445.2,1567.4 1450.2,1568.3 1455.7,1570.8 1456.2,1570.6 1457.2,1569.4 1458.7,1566.2 1464.2,1550.9 1466.2,1547.4 1468.7,1545.8 1470.7,1545.8 1475.2,1541.9 1478.7,1540.9 1484.2,1536.9 1485.7,1534.8 1493.7,1519.0 1498.7,1511.8 1501.2,1509.2 1502.2,1509.2 1503.7,1510.2 1508.2,1515.2 1511.2,1517.7 1515.7,1523.2 1516.2,1523.3 1516.7,1522.9 1521.7,1513.9 1528.2,1494.6 1530.2,1490.5 1536.2,1480.4 1539.2,1476.1 1544.2,1472.3 1545.2,1472.0 1546.2,1472.2 1549.2,1471.3 1550.2,1471.9 1551.7,1474.1 1556.7,1483.6 1568.7,1521.7 1569.7,1522.8 1570.7,1522.4 1573.7,1520.6 1574.2,1519.8 1576.7,1518.9 1578.2,1517.2 1579.7,1516.5 1581.2,1516.7 1583.2,1517.7 1584.7,1517.3 1585.2,1518.5 1588.2,1536.1 1590.2,1555.6 1601.7,1688.7 1604.7,1714.8 1607.7,1731.7 1608.2,1732.4 1611.2,1714.1 1615.2,1684.4 1621.7,1615.2 1626.7,1574.6 1633.2,1535.4 1637.7,1515.6 1640.2,1506.6 1642.7,1499.6 1647.2,1488.9 1652.7,1480.6 1653.7,1478.5 1655.2,1476.8 1657.2,1476.0 1658.7,1476.1 1663.2,1473.4 1664.7,1473.2 1668.7,1473.6 1670.2,1474.7 1672.7,1475.1 1673.7,1475.8 1675.7,1476.1 1677.2,1476.8 1677.7,1476.5 1679.7,1478.8 1685.7,1492.2 1687.7,1494.7 1688.7,1494.1 1693.2,1487.4 1696.2,1484.5 1697.2,1484.1 1698.7,1482.4 1700.2,1481.8 1701.7,1484.0 1704.2,1489.6 1709.7,1504.1 1716.7,1528.1 1719.2,1535.0 1720.2,1534.2 1727.7,1509.9 1736.7,1497.2 1741.2,1489.1 1747.2,1479.5 1750.7,1472.7 1754.2,1468.7 1755.2,1468.0 1757.2,1465.2 1761.2,1461.7 1770.7,1456.2 1774.7,1456.7 1775.2,1457.2 1777.2,1457.5 1781.2,1457.7 1783.7,1458.5 1788.2,1458.5 1792.7,1460.1 1793.7,1459.7 1797.2,1459.7 1800.7,1460.7 1813.2,1477.6 1815.2,1479.3 1822.2,1473.7 1826.2,1473.0 1828.2,1472.0 1830.2,1472.4 1831.2,1473.3 1835.2,1475.1 1835.7,1475.8 1839.2,1477.6 1839.7,1478.2 1840.7,1478.1 1841.2,1478.5 1842.7,1477.9 1844.2,1475.4 1845.2,1474.7 1847.2,1471.7 1852.7,1465.8 1856.2,1461.0 1858.7,1458.6 1859.7,1458.3 1861.2,1459.5 1871.7,1472.8 1873.7,1474.7 1876.2,1478.2 1878.7,1480.3 1885.7,1472.6 1889.7,1469.1 1893.2,1466.6 1896.2,1465.4 1898.2,1463.9 1901.7,1462.9 1902.7,1463.2 1907.7,1462.4 1912.7,1460.3 1915.7,1460.2 1918.7,1459.3 1920.2,1459.3 1926.7,1462.1 1929.7,1464.2 1933.2,1465.5 1938.7,1468.9 1943.2,1470.8 1946.2,1474.5 1956.7,1491.4 1957.7,1491.9 1958.7,1491.0 1960.7,1486.3 1966.2,1471.1 1972.2,1459.8 1973.2,1459.2 1976.7,1458.4 1980.7,1456.2 1982.7,1455.7 1986.2,1453.7 1990.7,1451.8 2004.2,1433.8 2005.7,1432.7 2007.7,1432.0 2026.7,1426.3 2037.7,1423.5 2061.7,1421.2 2079.2,1420.4 2080.2,1420.8 2086.2,1428.5 2093.7,1436.5 2099.7,1425.1 2104.2,1415.6 2106.2,1414.0 2112.2,1412.1 2119.7,1413.5 2126.2,1414.0 2132.2,1413.5 2181.2,1413.4 2196.7,1412.8"/>
<polyline points="170.2,1414.1 185.7,1414.9 227.2,1415.2 275.2,1415.1 288.7,1414.7 319.7,1415.2 341.7,1414.8 447.2,1415.0 451.2,1413.9 454.7,1409.9 461.7,1393.1 463.7,1390.3 464.2,1390.1 465.7,1392.0 476.7,1417.5 479.7,1427.3 485.2,1457.6 489.7,1486.7 490.2,1492.0 493.2,1547.2 496.7,1687.1 499.7,1787.0 502.7,1867.3 503.2,1869.0 506.2,1778.2 509.7,1693.5 513.7,1518.1 515.7,1463.9 517.7,1432.1 519.2,1421.8 519.7,1419.5 523.2,1415.2 602.2,1415.0 662.7,1417.7 692.7,1418.6 759.2,1422.5 793.2,1418.8 816.2,1415.6 818.7,1416.2 823.7,1418.5 832.2,1423.5 842.2,1423.9 845.2,1423.4 854.2,1418.0 857.2,1416.7 860.2,1416.0 918.2,1415.6 921.2,1416.1 927.2,1418.2 930.7,1418.9 932.7,1418.7 937.2,1416.6 940.2,1415.8 999.7,1410.9 1105.7,1408.8 1152.2,1408.6 1181.7,1408.0 1233.7,1408.9 1238.2,1409.7 1251.7,1414.8 1258.7,1418.5 1260.7,1420.2 1265.2,1425.7 1267.2,1429.7 1273.7,1445.8 1277.7,1454.2 1282.2,1461.8 1284.7,1467.1 1291.2,1478.5 1296.7,1489.1 1305.7,1503.3 1309.2,1507.6 1310.7,1508.9 1312.7,1512.4 1317.2,1518.0 1325.7,1531.0 1329.7,1536.5 1333.7,1543.2 1335.7,1545.3 1340.2,1556.0 1345.2,1566.4 1349.2,1576.3 1352.2,1582.2 1356.2,1592.2 1358.2,1595.6 1369.2,1620.6 1372.7,1627.2 1374.2,1628.7 1374.7,1630.0 1377.2,1633.3 1383.2,1643.9 1385.7,1646.1 1388.2,1647.5 1392.7,1651.5 1394.7,1651.2 1396.2,1650.1 1403.2,1643.1 1408.2,1632.3 1410.7,1628.5 1415.7,1618.7 1418.2,1615.7 1420.7,1611.4 1425.2,1605.4 1428.2,1600.4 1430.7,1597.0 1437.2,1578.6 1440.2,1572.5 1445.2,1568.6 1446.2,1568.2 1450.2,1570.2 1453.7,1571.1 1455.7,1572.5 1456.7,1572.0 1465.7,1549.8 1469.7,1546.9 1472.7,1545.3 1475.2,1544.7 1475.7,1543.8 1480.7,1540.4 1482.2,1538.7 1484.7,1537.4 1485.7,1536.3 1493.7,1519.1 1495.7,1516.1 1497.2,1515.2 1498.7,1513.1 1501.2,1510.6 1502.7,1510.8 1503.7,1512.5 1505.2,1513.2 1507.2,1515.1 1507.7,1515.1 1512.2,1521.1 1515.2,1523.6 1516.2,1523.5 1519.7,1518.5 1522.2,1514.0 1529.2,1492.9 1539.2,1476.7 1540.7,1475.0 1543.7,1473.5 1545.2,1473.3 1547.7,1471.8 1549.2,1471.7 1550.7,1473.4 1558.2,1488.0 1564.2,1509.1 1568.2,1521.6 1569.2,1523.7 1570.2,1524.1 1570.7,1523.5 1571.7,1523.6 1578.7,1519.1 1580.2,1518.5 1581.7,1518.7 1583.7,1519.5 1584.2,1519.3 1584.7,1519.6 1585.2,1521.2 1588.2,1543.8 1589.2,1555.3 1601.7,1735.7 1604.7,1769.1 1607.7,1790.2 1608.2,1790.9 1611.7,1764.6 1615.2,1730.2 1622.2,1639.4 1627.2,1592.0 1632.7,1550.5 1640.2,1511.9 1647.2,1491.2 1651.2,1484.0 1654.7,1478.6 1656.7,1477.1 1661.2,1475.3 1663.7,1473.7 1666.2,1473.9 1668.2,1475.2 1669.2,1475.1 1671.2,1476.3 1672.7,1475.9 1675.7,1476.2 1677.7,1477.1 1679.2,1479.0 1687.2,1495.3 1687.7,1495.7 1688.2,1495.7 1690.7,1492.7 1692.7,1489.3 1695.7,1485.6 1699.7,1482.4 1700.7,1483.1 1702.2,1485.6 1709.7,1504.5 1718.2,1534.9 1719.2,1537.1 1719.7,1536.9 1720.7,1534.7 1726.7,1513.9 1728.7,1508.8 1730.7,1506.8 1738.7,1494.2 1743.7,1485.1 1746.2,1481.9 1750.7,1473.3 1753.7,1469.8 1755.2,1469.0 1756.7,1467.1 1757.7,1466.4 1759.7,1463.4 1762.2,1460.9 1771.2,1456.8 1773.7,1457.6 1774.7,1457.2 1776.2,1457.7 1777.7,1457.4 1780.7,1457.7 1781.2,1458.2 1782.2,1458.3 1784.7,1459.3 1790.7,1460.2 1793.2,1460.1 1795.7,1460.7 1796.7,1460.4 1800.2,1460.8 1801.7,1462.1 1804.7,1465.8 1813.7,1478.5 1815.2,1479.7 1817.2,1479.1 1822.7,1474.2 1828.7,1472.6 1830.7,1472.8 1838.2,1478.1 1841.7,1479.8 1851.2,1467.5 1858.7,1459.3 1859.7,1458.6 1860.7,1459.2 1862.7,1461.4 1866.7,1467.6 1871.7,1473.0 1872.7,1474.6 1876.7,1478.9 1878.2,1479.5 1879.7,1479.2 1881.7,1477.3 1882.7,1477.1 1885.2,1474.7 1887.7,1471.3 1889.7,1469.7 1892.2,1468.5 1897.7,1464.4 1900.7,1463.5 1904.2,1463.3 1907.7,1462.1 1910.7,1461.8 1916.2,1460.2 1918.2,1460.3 1919.7,1459.8 1924.2,1461.8 1927.7,1462.7 1930.7,1464.7 1934.2,1466.2 1938.7,1469.7 1941.7,1470.7 1943.7,1471.9 1947.7,1477.1 1955.7,1490.8 1956.7,1492.4 1957.7,1493.1 1959.2,1490.8 1965.7,1472.7 1972.2,1460.7 1977.2,1457.8 1981.7,1456.5 1983.7,1455.2 1988.2,1453.6 1990.7,1452.1 2003.7,1434.6 2005.2,1433.1 2006.7,1432.5 2038.2,1424.4 2063.7,1422.0 2078.7,1421.4 2080.2,1421.9 2087.2,1430.9 2093.7,1438.1 2104.2,1416.9 2106.2,1415.4 2112.2,1413.4 2126.2,1415.3 2136.7,1414.7 2166.7,1415.1 2196.7,1414.6"/>
<polyline points="170.2,1416.9 194.2,1417.7 214.7,1417.4 276.7,1417.9 316.7,1417.4 369.7,1417.5 377.7,1417.2 445.2,1417.5 450.7,1416.6 452.7,1414.9 455.2,1412.0 462.2,1396.9 463.7,1395.2 464.2,1395.1 465.7,1396.9 471.7,1409.1 473.2,1413.2 476.7,1420.6 479.7,1430.8 485.2,1463.0 489.7,1493.9 490.2,1499.5 493.2,1558.3 496.7,1707.3 499.7,1813.7 502.7,1899.2 503.2,1901.0 506.2,1804.4 509.7,1714.1 513.7,1527.4 515.7,1469.7 517.7,1435.8 519.2,1424.8 519.7,1422.3 523.2,1417.7 557.7,1417.5 613.7,1417.9 659.2,1420.2 693.2,1421.2 713.2,1422.5 740.7,1423.6 758.7,1424.8 762.7,1424.7 816.2,1418.4 817.7,1418.6 820.7,1419.9 830.2,1425.2 832.7,1426.3 841.7,1426.4 845.7,1425.7 852.2,1421.6 855.7,1419.9 858.7,1418.8 861.7,1418.5 887.7,1417.9 916.7,1418.1 920.7,1418.5 927.2,1420.8 930.2,1421.4 933.2,1421.0 936.2,1419.6 939.7,1418.6 972.2,1415.7 1009.7,1413.3 1058.2,1412.6 1109.2,1411.2 1126.2,1411.4 1159.2,1410.8 1191.2,1410.6 1235.7,1411.3 1255.7,1417.7 1262.7,1420.7 1264.2,1421.8 1268.2,1426.2 1270.7,1430.5 1278.2,1448.3 1281.2,1454.3 1286.2,1460.2 1290.2,1466.0 1294.2,1469.5 1298.7,1477.1 1300.2,1478.5 1302.7,1482.3 1307.7,1488.5 1312.2,1496.4 1313.7,1497.7 1315.2,1500.2 1319.7,1505.7 1321.7,1509.7 1331.7,1522.9 1347.2,1548.0 1365.2,1599.2 1371.2,1614.1 1375.7,1627.4 1379.2,1633.0 1383.7,1642.8 1385.7,1646.3 1392.7,1653.8 1394.2,1654.5 1396.2,1652.5 1398.7,1649.0 1401.7,1646.3 1403.7,1643.4 1413.7,1623.4 1418.7,1615.6 1420.2,1614.3 1423.2,1610.6 1425.7,1605.9 1430.2,1599.4 1436.7,1581.8 1439.7,1575.3 1441.7,1573.3 1443.2,1572.6 1445.2,1570.8 1446.7,1570.7 1450.2,1571.7 1451.2,1572.3 1453.7,1572.8 1456.2,1574.0 1456.7,1573.5 1464.7,1552.4 1470.2,1547.7 1473.2,1546.4 1477.7,1543.3 1479.2,1542.9 1484.7,1538.2 1491.2,1526.4 1494.2,1519.5 1496.7,1516.6 1499.2,1514.4 1500.7,1512.2 1502.2,1511.6 1503.7,1512.7 1504.7,1513.9 1505.7,1514.3 1507.7,1516.9 1509.2,1517.9 1510.2,1519.9 1513.7,1524.2 1515.2,1525.1 1516.2,1525.2 1522.7,1512.6 1528.7,1494.7 1537.7,1478.8 1539.7,1476.5 1540.7,1476.3 1541.7,1475.5 1542.2,1475.6 1545.7,1473.1 1547.7,1472.2 1549.2,1472.1 1550.2,1473.1 1553.2,1478.2 1557.2,1486.1 1567.2,1519.8 1568.2,1522.9 1569.2,1524.6 1570.2,1524.9 1573.2,1523.5 1577.2,1521.1 1580.2,1518.6 1582.7,1519.6 1584.2,1519.6 1585.2,1522.0 1588.2,1544.8 1589.2,1556.4 1601.7,1737.2 1604.7,1769.5 1607.7,1792.6 1608.2,1793.8 1611.2,1771.2 1615.2,1732.1 1621.7,1647.1 1623.7,1626.1 1627.2,1592.2 1632.2,1554.7 1633.7,1545.4 1640.2,1513.4 1647.2,1492.1 1655.2,1478.4 1661.7,1475.7 1662.7,1474.6 1663.7,1474.2 1666.2,1474.6 1667.2,1475.5 1672.7,1476.7 1674.7,1476.7 1676.2,1477.4 1677.2,1477.5 1679.2,1480.1 1682.7,1487.7 1686.7,1494.8 1687.7,1495.8 1688.7,1495.5 1692.7,1489.5 1697.2,1485.1 1698.2,1483.5 1699.7,1482.6 1700.2,1482.8 1701.2,1484.1 1708.2,1500.8 1717.7,1534.4 1719.2,1538.0 1719.7,1537.8 1720.7,1535.5 1726.7,1514.6 1728.2,1510.9 1736.2,1498.9 1737.2,1498.2 1739.7,1494.8 1751.2,1472.6 1755.2,1469.4 1756.2,1467.9 1762.2,1461.9 1770.7,1457.5 1772.2,1457.3 1776.7,1458.3 1780.7,1458.3 1785.2,1460.1 1788.7,1459.7 1800.2,1461.4 1801.7,1462.5 1805.7,1468.8 1814.2,1480.7 1815.7,1481.4 1820.2,1476.7 1824.7,1474.6 1827.2,1472.9 1828.7,1472.6 1830.7,1473.4 1835.7,1477.2 1838.2,1478.1 1840.7,1480.0 1841.7,1479.9 1842.7,1479.0 1848.7,1470.6 1854.2,1465.2 1858.7,1459.0 1860.2,1459.0 1860.7,1459.6 1868.2,1470.0 1873.2,1475.2 1875.7,1478.7 1878.2,1480.9 1882.2,1477.9 1882.7,1477.0 1888.7,1470.8 1896.2,1465.8 1899.7,1465.2 1904.2,1462.9 1906.7,1462.7 1910.2,1463.1 1916.2,1460.8 1919.7,1460.1 1926.7,1462.8 1930.2,1465.9 1931.7,1466.2 1932.7,1467.0 1934.7,1467.1 1938.2,1469.1 1939.2,1470.4 1943.7,1472.4 1950.2,1481.8 1957.7,1494.1 1958.7,1493.1 1959.2,1491.8 1964.7,1475.1 1971.7,1460.9 1973.2,1459.8 1976.2,1459.0 1983.2,1455.7 1989.7,1453.2 1991.7,1451.3 2004.2,1434.6 2006.2,1433.3 2038.7,1425.3 2058.2,1423.9 2078.2,1423.3 2080.2,1423.8 2088.7,1434.9 2093.7,1440.0 2104.2,1418.9 2106.2,1417.5 2112.2,1415.6 2126.2,1417.7 2138.7,1417.2 2156.2,1417.2 2180.7,1417.7 2196.7,1417.5"/>
<polyline points="170.2,1418.6 221.7,1419.3 283.2,1418.7 314.7,1419.3 388.2,1418.7 446.7,1419.1 450.7,1418.3 454.7,1415.1 461.7,1402.6 463.7,1400.5 464.2,1400.4 466.2,1402.4 471.7,1412.2 476.7,1422.9 479.7,1433.4 485.2,1466.9 489.7,1499.3 490.2,1505.3 493.2,1567.1 496.7,1723.6 499.7,1835.4 502.7,1925.3 503.2,1927.1 506.2,1825.5 509.7,1730.6 513.7,1534.4 515.7,1473.9 517.7,1438.2 519.2,1426.5 519.7,1423.9 523.2,1418.9 541.7,1419.3 606.2,1419.1 645.7,1420.9 679.2,1421.5 707.7,1423.6 722.7,1424.2 757.2,1426.4 761.7,1426.3 797.7,1422.5 815.7,1420.0 818.2,1420.3 820.2,1421.3 832.2,1427.9 840.7,1428.2 845.2,1427.6 853.2,1422.5 857.2,1420.9 860.7,1420.1 918.2,1419.5 920.2,1419.7 927.7,1422.3 930.7,1422.8 933.2,1422.3 938.7,1420.0 942.2,1419.7 999.2,1415.1 1029.2,1414.1 1126.2,1412.4 1191.2,1412.0 1233.7,1413.1 1237.2,1413.7 1252.7,1418.0 1260.2,1421.1 1262.2,1422.6 1266.7,1427.6 1277.7,1452.4 1282.2,1459.8 1283.7,1463.1 1292.7,1477.6 1295.2,1482.6 1301.7,1493.0 1309.2,1503.5 1312.7,1507.5 1316.7,1513.2 1320.7,1520.3 1323.2,1523.1 1326.7,1529.1 1331.2,1534.8 1333.2,1538.6 1340.2,1547.9 1344.7,1560.2 1356.2,1587.5 1365.2,1610.5 1373.2,1628.8 1377.7,1635.4 1382.2,1644.1 1384.2,1646.9 1386.2,1649.3 1387.7,1650.3 1392.2,1654.8 1393.7,1655.6 1398.7,1652.1 1401.2,1649.2 1410.7,1631.4 1415.2,1622.0 1419.2,1616.8 1421.2,1613.3 1425.7,1608.3 1429.2,1603.3 1434.2,1590.6 1438.7,1577.6 1440.2,1574.8 1443.2,1572.6 1446.2,1571.1 1447.7,1572.2 1449.7,1572.4 1452.7,1573.7 1455.2,1575.8 1456.2,1575.4 1457.7,1572.8 1463.2,1557.0 1465.2,1552.4 1467.2,1550.7 1469.2,1549.8 1473.7,1546.8 1477.2,1545.3 1479.7,1542.7 1484.2,1539.3 1485.7,1537.8 1493.2,1521.7 1494.7,1519.3 1496.7,1517.6 1498.7,1514.5 1501.2,1511.5 1502.7,1512.2 1503.2,1513.2 1505.2,1514.6 1507.2,1517.2 1507.7,1517.2 1509.2,1518.7 1515.2,1525.9 1516.7,1525.8 1520.2,1519.7 1521.7,1516.3 1529.2,1494.0 1531.2,1491.4 1537.7,1479.3 1539.7,1476.9 1541.7,1476.2 1544.2,1474.3 1545.7,1474.0 1547.2,1472.8 1549.7,1472.6 1553.2,1478.2 1556.7,1485.2 1559.2,1492.4 1567.7,1521.7 1569.2,1525.1 1571.2,1525.2 1572.2,1524.1 1573.7,1523.9 1576.2,1521.8 1579.7,1520.6 1584.7,1520.2 1585.2,1521.9 1588.2,1545.1 1590.2,1570.0 1601.7,1738.4 1604.7,1771.4 1607.7,1793.0 1608.2,1793.9 1612.2,1763.0 1615.2,1734.0 1622.2,1641.2 1627.2,1593.5 1632.7,1551.3 1639.7,1516.2 1643.2,1504.1 1647.2,1491.9 1655.2,1478.1 1663.7,1474.9 1666.2,1475.1 1670.7,1477.1 1677.2,1478.4 1678.7,1479.8 1686.7,1495.8 1687.7,1496.4 1690.7,1493.3 1697.7,1484.0 1699.2,1482.7 1700.2,1482.7 1701.2,1484.4 1708.7,1503.5 1714.2,1521.7 1718.2,1536.8 1719.2,1538.6 1719.7,1538.4 1720.7,1536.3 1725.2,1520.4 1728.2,1511.6 1731.7,1506.0 1732.2,1506.0 1732.7,1505.4 1736.7,1498.1 1739.7,1494.4 1748.2,1479.0 1753.2,1472.0 1760.7,1463.6 1762.7,1461.9 1771.7,1457.6 1777.2,1458.6 1782.7,1458.7 1793.7,1461.4 1795.7,1461.7 1798.2,1461.5 1800.2,1462.1 1805.2,1468.1 1809.7,1474.6 1814.7,1480.9 1815.7,1481.2 1825.2,1473.7 1827.7,1472.8 1829.7,1473.5 1833.2,1476.5 1836.2,1477.8 1837.7,1477.8 1839.7,1479.6 1840.2,1479.5 1841.2,1480.3 1842.2,1480.3 1843.2,1479.3 1844.2,1477.3 1848.7,1470.7 1856.2,1462.8 1857.7,1460.7 1859.7,1459.2 1860.7,1459.9 1870.2,1473.1 1874.7,1477.0 1875.7,1478.8 1877.7,1480.9 1879.2,1481.3 1881.7,1479.0 1886.2,1473.5 1891.2,1469.3 1893.7,1468.0 1894.7,1466.8 1895.7,1466.5 1896.2,1465.9 1898.2,1465.0 1902.2,1463.9 1904.7,1463.9 1905.2,1463.5 1907.7,1463.2 1912.2,1461.5 1916.7,1461.1 1919.2,1460.3 1921.2,1460.5 1922.7,1461.8 1925.7,1463.4 1929.2,1464.6 1933.7,1467.0 1938.2,1470.6 1940.2,1471.3 1941.7,1471.2 1943.2,1472.0 1945.2,1474.7 1946.7,1477.8 1950.2,1483.5 1951.7,1485.2 1955.7,1492.2 1956.7,1493.6 1957.7,1494.1 1959.2,1491.7 1965.2,1474.4 1968.2,1469.3 1972.2,1460.9 1973.2,1459.9 1977.7,1458.7 1990.2,1453.1 1992.2,1451.1 2003.7,1435.5 2006.2,1433.6 2022.7,1429.9 2032.2,1427.4 2039.2,1426.1 2058.7,1424.8 2078.7,1424.4 2080.2,1424.9 2087.7,1434.7 2093.7,1441.3 2104.2,1420.4 2106.2,1418.9 2112.2,1417.1 2119.2,1418.6 2126.7,1419.4 2196.7,1418.6"/>
<polyline points="170.2,1423.5 211.2,1423.8 245.7,1423.3 276.2,1423.7 446.7,1423.4 451.2,1422.4 454.7,1419.3 461.7,1406.4 463.7,1404.2 464.2,1404.1 466.2,1406.3 471.7,1416.4 476.7,1427.3 479.7,1438.1 485.2,1473.2 489.7,1506.9 490.2,1513.1 493.2,1577.3 496.7,1739.9 499.7,1856.1 502.7,1949.4 503.2,1951.3 506.2,1845.8 509.7,1747.4 513.7,1543.5 515.7,1480.5 517.7,1443.4 519.2,1431.3 519.7,1428.6 523.2,1423.6 537.7,1423.8 568.7,1423.3 620.7,1424.3 703.7,1427.7 759.7,1430.9 794.7,1427.3 815.7,1424.3 818.7,1424.9 824.7,1427.8 830.7,1431.5 834.2,1432.4 844.7,1432.1 853.2,1427.0 858.2,1425.0 861.2,1424.5 897.7,1423.9 917.7,1424.0 920.7,1424.4 927.7,1427.0 930.7,1427.4 933.2,1427.0 937.7,1424.9 939.7,1424.4 986.7,1420.4 1001.2,1419.6 1014.7,1419.5 1066.2,1417.8 1104.2,1417.2 1148.7,1417.3 1178.2,1416.3 1225.7,1417.3 1234.7,1417.7 1246.2,1420.3 1253.7,1421.4 1261.2,1423.4 1263.2,1424.5 1268.2,1429.3 1279.2,1453.4 1281.7,1458.1 1289.7,1469.2 1292.7,1474.4 1298.2,1481.6 1304.2,1491.9 1305.7,1494.0 1306.7,1494.5 1312.2,1503.1 1318.7,1511.2 1323.7,1519.6 1329.7,1527.3 1341.7,1545.8 1343.7,1549.3 1346.7,1556.6 1353.2,1574.7 1363.7,1601.4 1368.2,1614.6 1374.2,1628.5 1385.2,1649.6 1388.7,1653.2 1390.2,1654.0 1393.2,1657.2 1394.2,1657.4 1396.2,1655.6 1399.2,1651.4 1403.7,1646.3 1413.7,1625.4 1418.2,1620.0 1421.7,1613.8 1429.7,1603.0 1430.7,1601.1 1437.7,1581.5 1440.2,1576.9 1442.2,1575.1 1443.7,1573.0 1445.2,1571.9 1446.7,1571.6 1447.2,1572.0 1450.7,1572.6 1453.2,1574.6 1455.2,1575.6 1456.2,1575.4 1457.7,1573.1 1465.2,1553.5 1466.2,1552.1 1467.2,1552.0 1469.2,1550.8 1472.2,1548.1 1474.7,1547.4 1476.2,1546.6 1477.7,1544.6 1479.7,1543.0 1481.2,1542.3 1482.2,1542.5 1484.7,1540.8 1487.2,1536.6 1493.2,1523.2 1497.2,1517.9 1499.2,1514.4 1501.2,1512.1 1502.2,1512.3 1507.7,1518.0 1509.7,1519.2 1515.2,1526.5 1516.2,1526.3 1521.7,1517.4 1527.7,1498.9 1530.7,1492.3 1534.2,1486.1 1537.2,1481.9 1538.7,1479.1 1540.7,1476.9 1542.7,1475.6 1546.7,1474.4 1548.7,1473.1 1550.7,1475.0 1557.2,1487.1 1558.7,1491.2 1567.7,1522.4 1569.2,1525.8 1570.2,1526.3 1571.2,1525.9 1579.2,1520.8 1582.7,1521.8 1584.7,1521.4 1585.2,1523.4 1588.7,1551.7 1592.7,1605.7 1601.7,1739.4 1604.7,1773.4 1607.7,1795.5 1608.2,1796.1 1611.2,1773.3 1614.7,1740.9 1622.2,1642.2 1627.2,1594.6 1633.2,1549.0 1639.7,1516.8 1642.7,1506.7 1646.7,1494.5 1655.2,1479.5 1657.7,1478.0 1660.2,1477.4 1664.7,1474.8 1668.7,1476.3 1669.2,1476.9 1672.7,1476.9 1676.2,1478.1 1678.2,1479.6 1686.7,1496.0 1687.2,1496.6 1688.2,1496.9 1689.2,1496.2 1691.2,1493.4 1693.2,1489.6 1694.7,1488.0 1697.2,1486.5 1699.7,1483.7 1700.7,1483.9 1701.7,1485.4 1708.7,1504.1 1718.7,1539.1 1719.7,1539.6 1720.7,1537.4 1727.2,1514.0 1728.2,1511.6 1730.7,1507.6 1731.7,1507.0 1739.2,1496.6 1747.7,1479.4 1750.7,1474.6 1762.7,1461.8 1764.2,1460.7 1767.2,1460.2 1770.7,1458.1 1772.2,1457.7 1782.2,1460.0 1791.7,1461.0 1795.2,1461.9 1800.2,1462.3 1809.2,1473.8 1814.7,1481.9 1816.7,1480.9 1818.2,1479.2 1821.2,1477.1 1824.7,1475.5 1828.2,1473.1 1831.2,1474.3 1837.2,1479.0 1841.2,1480.2 1844.2,1477.7 1854.7,1464.2 1858.2,1460.1 1859.2,1459.5 1860.7,1460.0 1864.7,1466.2 1867.7,1469.8 1869.2,1470.9 1870.7,1472.7 1874.2,1478.1 1877.7,1481.0 1878.7,1480.9 1882.2,1478.1 1884.2,1477.0 1888.7,1472.2 1894.7,1468.5 1896.7,1466.6 1899.7,1465.2 1904.2,1465.0 1907.2,1463.7 1910.2,1463.3 1914.7,1461.6 1916.2,1461.8 1918.2,1461.3 1921.2,1461.4 1923.2,1462.5 1928.7,1464.4 1933.7,1468.2 1935.2,1468.7 1939.7,1471.5 1943.2,1472.8 1944.2,1473.7 1954.2,1490.4 1957.7,1494.4 1958.7,1493.2 1964.7,1476.2 1972.2,1461.4 1974.7,1459.7 1983.2,1457.1 1990.7,1452.9 2003.2,1437.0 2004.2,1435.9 2006.2,1434.7 2038.7,1428.5 2048.2,1428.3 2059.7,1427.6 2078.7,1427.8 2080.2,1428.4 2089.7,1441.0 2093.7,1445.2 2104.2,1424.4 2106.7,1422.7 2112.2,1421.4 2118.7,1422.9 2126.2,1423.9 2147.7,1423.3 2196.7,1423.9"/>
<polyline points="170.2,1425.3 212.2,1425.7 288.7,1425.4 376.7,1425.4 407.7,1425.7 446.7,1425.5 451.2,1424.6 454.7,1421.9 461.7,1410.2 463.7,1408.2 464.2,1408.2 465.7,1409.5 467.7,1412.5 471.7,1419.1 476.7,1429.5 479.7,1440.7 485.2,1476.5 489.7,1511.3 490.2,1517.7 493.2,1583.7 496.7,1750.8 499.7,1870.2 502.7,1966.1 503.2,1968.1 506.2,1859.7 509.7,1758.3 513.7,1548.7 515.7,1483.9 517.7,1445.8 519.2,1433.4 519.7,1430.6 523.2,1425.5 599.2,1425.4 633.7,1427.0 663.7,1427.9 708.2,1430.4 718.2,1430.6 759.2,1433.1 816.2,1426.4 819.2,1427.2 825.2,1430.2 831.2,1434.0 834.2,1434.6 844.2,1434.5 846.7,1433.4 853.2,1429.1 857.7,1427.1 861.2,1426.4 917.7,1426.0 921.2,1426.5 926.7,1428.7 931.2,1429.5 933.2,1429.1 937.2,1427.2 939.7,1426.6 960.7,1424.5 999.7,1421.6 1041.2,1420.5 1071.7,1420.3 1104.7,1419.3 1191.2,1418.6 1223.2,1419.0 1234.7,1419.3 1247.7,1422.0 1258.2,1422.8 1267.2,1421.7 1273.7,1420.4 1276.7,1420.3 1990.2,1420.4 2061.7,1422.4 2079.7,1423.4 2086.2,1428.4 2093.7,1435.1 2099.7,1429.2 2104.2,1423.4 2112.2,1421.8 2119.2,1423.8 2126.7,1425.3 2142.7,1425.7 2175.7,1425.3 2196.7,1425.7"/>
<polyline points="170.2,1428.3 188.2,1427.9 225.2,1428.3 265.2,1427.9 336.7,1427.9 363.7,1428.3 394.2,1427.8 420.2,1428.2 447.2,1428.1 451.2,1427.1 454.7,1424.5 461.7,1413.2 463.7,1411.3 464.2,1411.2 466.2,1413.1 471.7,1421.7 477.2,1433.5 480.2,1446.1 485.2,1480.5 489.7,1516.1 490.2,1522.6 493.2,1590.4 496.7,1762.1 499.7,1884.8 502.7,1983.4 503.2,1985.5 506.2,1874.1 509.7,1770.0 513.7,1554.5 515.7,1488.0 517.7,1448.8 519.2,1436.0 519.7,1433.2 523.2,1427.9 562.7,1428.2 601.2,1428.0 697.2,1431.8 759.2,1435.5 801.2,1430.9 815.7,1428.9 819.2,1429.7 825.2,1432.6 832.2,1436.6 841.2,1436.9 845.2,1436.4 852.7,1431.6 858.2,1429.3 860.7,1428.9 918.7,1428.7 920.7,1429.0 927.2,1431.2 930.7,1431.9 932.7,1431.6 937.2,1429.5 940.2,1428.8 963.7,1426.5 1001.2,1423.9 1116.2,1421.7 1190.7,1421.2 1224.7,1421.4 1235.2,1421.9 1240.2,1423.4 1243.2,1423.8 1255.2,1424.5 1258.2,1424.4 1262.7,1423.6 1274.7,1420.5 1984.2,1420.4 1996.2,1420.8 2042.7,1423.5 2064.7,1423.9 2079.2,1425.0 2080.2,1425.2 2084.7,1428.9 2093.7,1437.0 2100.2,1430.6 2104.2,1425.3 2112.2,1423.7 2118.7,1425.8 2125.7,1427.5 2135.7,1428.2 2182.2,1428.0 2196.7,1427.0"/>
<polyline points="170.2,1405.8 201.7,1406.7 230.7,1406.5 279.7,1406.7 304.2,1406.3 446.7,1406.6 450.7,1405.1 451.2,1404.5 454.7,1397.9 461.7,1369.9 463.7,1365.2 464.2,1365.0 466.2,1369.6 473.2,1398.0 477.2,1411.1 479.7,1422.1 485.2,1460.1 489.7,1496.4 490.2,1503.1 493.2,1572.2 496.7,1747.3 499.7,1872.3 502.7,1972.9 503.2,1975.0 506.2,1861.3 509.7,1755.2 513.7,1535.6 515.7,1467.8 517.7,1427.8 519.2,1414.8 519.7,1411.9 523.2,1406.4 566.7,1406.3 615.7,1407.0 711.2,1411.0 758.2,1413.9 785.7,1411.2 816.2,1407.4 818.2,1407.8 820.2,1408.7 831.7,1415.1 833.7,1415.6 840.7,1415.6 845.2,1415.0 854.7,1409.1 857.7,1407.9 860.7,1407.3 883.7,1407.4 916.7,1406.8 920.2,1407.1 928.2,1409.8 930.7,1410.1 933.2,1409.7 936.7,1408.1 939.7,1407.3 1000.2,1402.3 1037.7,1401.8 1134.7,1396.3 1169.7,1394.8 1192.2,1392.6 1214.7,1395.9 1235.2,1399.7 1240.2,1401.9 1247.2,1406.1 1265.2,1415.5 1274.2,1419.6 1989.2,1419.6 2044.2,1412.2 2061.7,1410.4 2079.7,1409.3 2085.2,1412.9 2093.7,1419.6 2099.7,1413.0 2104.2,1406.8 2112.2,1404.6 2119.7,1406.0 2127.2,1406.6 2131.7,1406.3 2156.2,1406.7 2177.2,1406.3 2196.7,1407.2"/>
<polyline points="170.2,1410.4 186.7,1410.1 200.7,1410.4 281.2,1410.0 447.2,1410.0 451.2,1408.1 454.7,1401.7 461.7,1375.3 463.7,1370.8 464.2,1370.6 466.2,1375.0 473.2,1400.6 477.2,1408.4 481.2,1410.7 489.7,1412.1 492.7,1413.4 499.7,1419.8 503.2,1422.0 509.7,1417.3 513.7,1412.8 515.7,1411.3 518.2,1410.4 523.2,1410.0 602.2,1409.9 620.7,1411.0 699.7,1413.8 758.2,1417.5 761.7,1417.4 795.7,1413.8 815.7,1410.7 819.7,1411.8 832.2,1418.7 834.2,1419.0 843.2,1419.0 846.2,1418.0 852.7,1413.7 857.2,1411.8 859.7,1411.2 863.2,1410.9 918.2,1410.4 921.7,1411.0 928.2,1413.3 930.7,1413.7 932.7,1413.3 936.7,1411.5 939.7,1410.7 999.7,1406.2 1038.2,1405.6 1052.2,1404.9 1075.2,1404.6 1105.2,1403.7 1171.2,1403.4 1192.2,1402.9 1202.2,1402.9 1235.2,1404.3 1240.2,1405.7 1252.2,1411.4 1265.7,1416.9 1274.2,1419.7 1989.7,1419.7 2039.7,1414.3 2079.2,1411.9 2080.7,1412.4 2093.7,1422.5 2099.7,1416.2 2104.2,1410.2 2112.7,1407.9 2119.2,1409.4 2126.2,1410.2 2196.7,1409.9"/>
<polyline points="170.2,1421.3 254.7,1420.9 284.7,1421.1 302.2,1420.7 344.7,1421.2 407.2,1420.8 446.7,1421.0 451.2,1420.4 454.7,1418.1 461.7,1408.8 464.2,1407.2 466.2,1408.7 472.7,1417.2 474.2,1418.5 477.2,1420.5 481.2,1421.6 489.7,1423.3 492.7,1424.9 500.2,1433.6 503.2,1435.8 505.7,1433.3 509.7,1430.2 513.7,1424.4 515.7,1422.6 517.7,1421.6 519.7,1421.2 525.2,1420.9 604.7,1420.9 628.2,1422.2 711.2,1425.5 759.2,1428.5 792.2,1425.0 815.7,1421.6 817.7,1421.9 821.7,1423.8 832.2,1429.7 841.2,1430.1 845.2,1429.6 853.2,1424.6 857.7,1422.7 860.7,1422.1 917.7,1421.5 921.2,1422.1 928.2,1424.4 931.2,1424.7 933.7,1424.1 937.2,1422.4 940.2,1421.8 1000.2,1416.9 1096.7,1414.8 1140.2,1414.9 1188.2,1414.0 1234.7,1415.1 1254.7,1419.7 1266.2,1420.5 1313.7,1420.1 1979.2,1420.2 2068.2,1419.6 2080.2,1420.2 2093.7,1431.4 2099.7,1425.3 2104.2,1419.3 2112.2,1417.4 2118.7,1419.1 2126.7,1420.7 2173.2,1421.0 2196.7,1420.3"/>
</g>
<rect x="449" y="1322.4" width="28.7" height="133" fill="#00aa32" fill-opacity="0.45"/>
<rect x="2102.6" y="1364" width="21.1" height="95.2" fill="#00aa32" fill-opacity="0.45"/>
<line x1="504.3" y1="1348.5" x2="503" y2="2020" stroke="#000" stroke-width="4.5" stroke-dasharray="14.3 9.2"/>
<line x1="1396.6" y1="1402.8" x2="1393" y2="1716" stroke="#000" stroke-width="4.5" stroke-dasharray="14.3 9.2"/>
<text x="66.6" y="1236.5" font-size="143.0" font-weight="bold">b</text>
<text x="184.2" y="1244.4" font-size="74.7" font-weight="bold">CN-B/<tspan dx="-2.5">T</tspan><tspan dx="-2">i</tspan><tspan dy="19.7" font-size="49">3</tspan><tspan dy="-19.7">C</tspan><tspan dy="19.7" font-size="49">2</tspan></text>
<text x="2180" y="1240" font-size="74.6" font-weight="bold" text-anchor="end">CO<tspan dy="19.7" font-size="49">2</tspan><tspan dy="-19.7"> Reduction</tspan></text>
<text x="317.5" y="1377.3" font-size="57.0" fill="#009a1e">2368</text>
<text x="176" y="1525.5" font-size="57.5" fill="#009a1e">(O=C=O-H<tspan dy="-25" font-size="38">+</tspan><tspan dy="25">)</tspan></text>
<text x="1990.8" y="1382.0" font-size="55.8" fill="#009a1e">1067</text>
<text x="1964" y="1513.3" font-size="57.3" fill="#009a1e">(C=O-H<tspan dy="-25" font-size="38">+</tspan><tspan dy="25">)</tspan></text>
<text x="519.0" y="1928.0" font-size="56.7">2338</text>
<text x="966.0" y="1649.6" font-size="61.0" text-anchor="middle">0 min</text>
<text x="965.2" y="1970.6" font-size="61.0" text-anchor="middle">15 min</text>
<line x1="970.0" y1="1674.7" x2="970.0" y2="1866.0" stroke="#000" stroke-width="5.0"/><polygon points="970.0,1918.0 957.0,1864.0 983.0,1864.0" fill="#000"/>
<text x="1265.3" y="1714.1" font-size="55.5">1634</text>
<text x="1464.3" y="1722.0" font-size="55.5">1511</text>
<text x="1636.0" y="1722.0" font-size="55.5">1430</text>
<text x="1774.4" y="1734.2" font-size="55.5">1337</text>
<text x="1903.1" y="1776.6" font-size="55.5">1266</text>
<line x1="1530.5" y1="1669.6" x2="1540.7" y2="1544.8" stroke="#000" stroke-width="5.0"/><polygon points="1545.0,1493.0 1553.5,1547.9 1527.6,1545.8" fill="#000"/>
<line x1="1679.4" y1="1669.6" x2="1667.9" y2="1538.3" stroke="#000" stroke-width="5.0"/><polygon points="1663.4,1486.5 1681.1,1539.2 1655.2,1541.4" fill="#000"/>
<line x1="1820.5" y1="1686.0" x2="1783.7" y2="1517.3" stroke="#000" stroke-width="5.0"/><polygon points="1772.6,1466.5 1796.8,1516.5 1771.4,1522.0" fill="#000"/>
<line x1="1947.3" y1="1723.4" x2="1876.6" y2="1519.6" stroke="#000" stroke-width="5.0"/><polygon points="1859.6,1470.5 1889.6,1517.3 1865.0,1525.8" fill="#000"/>
<path d="M187.5 1972V2078M177.2 1973.4H200.8M177.2 2076.7H200.8" stroke="#000" stroke-width="3.7" fill="none"/>
<text x="210.5" y="2039.3" font-size="56.7">0.0002</text>
<text x="170.2" y="2167.0" font-size="74.0" font-weight="bold" text-anchor="middle">2600</text>
<text x="423.4" y="2167.0" font-size="74.0" font-weight="bold" text-anchor="middle">2400</text>
<text x="676.6" y="2167.0" font-size="74.0" font-weight="bold" text-anchor="middle">2200</text>
<text x="929.9" y="2167.0" font-size="74.0" font-weight="bold" text-anchor="middle">2000</text>
<text x="1183.1" y="2167.0" font-size="74.0" font-weight="bold" text-anchor="middle">1800</text>
<text x="1436.3" y="2167.0" font-size="74.0" font-weight="bold" text-anchor="middle">1600</text>
<text x="1689.5" y="2167.0" font-size="74.0" font-weight="bold" text-anchor="middle">1400</text>
<text x="1942.8" y="2167.0" font-size="74.0" font-weight="bold" text-anchor="middle">1200</text>
<text x="2196.0" y="2167.0" font-size="74.0" font-weight="bold" text-anchor="middle">1000</text>
<text x="1185.4" y="2265" font-size="82" font-weight="bold" text-anchor="middle">Wavenumber (cm<tspan dy="-34" font-size="57">−1</tspan><tspan dy="34">)</tspan></text>
<text transform="translate(95,1625) rotate(-90)" font-size="82.5" font-weight="bold" text-anchor="middle">Intensity (a.u.)</text>
</g>
</svg>
</body></html>
